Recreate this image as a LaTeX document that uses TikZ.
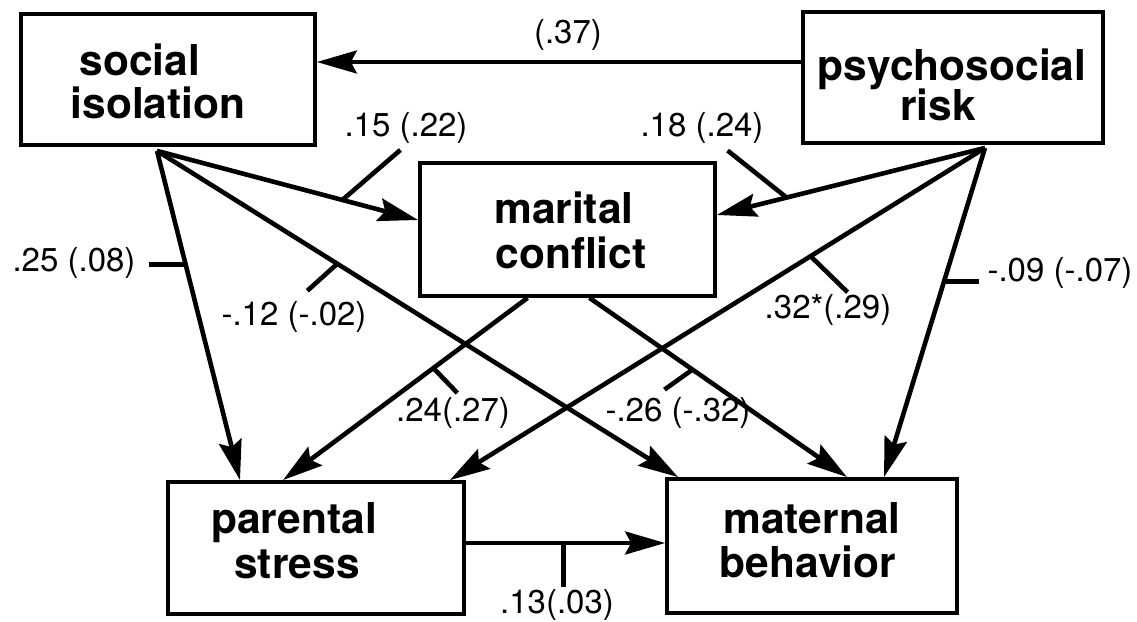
\documentclass[tikz,border=0pt]{standalone}
\usepackage{fontspec}
\setmainfont{TeX Gyre Heros}
\usetikzlibrary{arrows.meta}
\begin{document}
\begin{tikzpicture}[x=1pt,y=-1pt,
  box/.style={draw, line width=3.8pt, inner sep=0pt},
  btxt/.style={font=\bfseries\fontsize{42.5}{44}\selectfont, inner sep=0pt, anchor=base},
  lbl/.style={font=\fontsize{33}{35}\selectfont, inner sep=0pt},
  arr/.style={line width=4.6pt, -{Stealth[length=40pt,width=23pt,inset=6pt]}},
  thinarr/.style={line width=3.8pt, -{Stealth[length=40pt,width=23pt,inset=6pt]}},
  tick/.style={line width=4.6pt}]
\useasboundingbox[fill=white] (0,0) rectangle (1137,621);

% boxes
\node[box, minimum width=294pt, minimum height=131pt] (si) at (168,79.5) {};
\node[box, minimum width=300pt, minimum height=131pt] (pr) at (953,77.5) {};
\node[box, minimum width=295pt, minimum height=133pt] (mc) at (567.5,229.5) {};
\node[box, minimum width=296pt, minimum height=132pt] (ps) at (316,548) {};
\node[box, minimum width=290pt, minimum height=134pt] (mb) at (812,546) {};

% box texts
\node[btxt] (si1) at (140,75) {social};
\node[btxt] (si2) at (158,118) {isolation};
\node[btxt] (pr1) at (952,80) {psychosocial};
\node[btxt] (pr2) at (938,120) {risk};
\node[btxt] (mc1) at (564,223) {marital};
\node[btxt] (mc2) at (571,268) {conflict};
\node[btxt] (ps1) at (294,533) {parental};
\node[btxt] (ps2) at (297,578) {stress};
\node[btxt] (mb1) at (812,533) {maternal};
\node[btxt] (mb2) at (808,577) {behavior};

% connectors
\draw[thinarr] ([yshift=15.5pt]pr.west) -- ([yshift=17.5pt]si.east);
\draw[arr] ([xshift=-11pt,yshift=-4pt]si.south) -- coordinate[pos=0.345] (t25) ([xshift=-76pt]ps.north);
\draw[arr] ([xshift=-11pt,yshift=-4pt]si.south) -- coordinate[pos=0.71] (t15) ([yshift=9.5pt]mc.west);
\draw[arr] ([xshift=-11pt,yshift=-4pt]si.south) -- coordinate[pos=0.346] (t12) ([xshift=13pt]mb.north west);
\draw[arr] ([xshift=32pt,yshift=-3pt]pr.south) -- coordinate[pos=0.74] (t18) ([yshift=14.5pt]mc.east);
\draw[arr] ([xshift=32pt,yshift=-3pt]pr.south) -- coordinate[pos=0.326] (t32) ([xshift=-16pt]ps.north east);
\draw[arr] ([xshift=32pt,yshift=-3pt]pr.south) -- coordinate[pos=0.405] (t09) ([xshift=72pt]mb.north);
\draw[arr] ([xshift=-40pt]mc.south) -- coordinate[pos=0.385] (t24) ([xshift=-33pt]ps.north);
\draw[arr] ([xshift=22pt]mc.south) -- coordinate[pos=0.40] (t26) ([xshift=35pt]mb.north);
\draw[thinarr] ([yshift=5pt]ps.east) -- coordinate[pos=0.49] (t13) ([yshift=3pt]mb.west);

% ticks
\draw[tick] (t25) -- ++(-37,0);
\draw[tick] (t12) -- ++(-30,27);
\draw[tick] (t15) -- ++(58,-50);
\draw[tick] (t18) -- ++(-59,-47);
\draw[tick] (t32) -- ++(37,36);
\draw[tick] (t09) -- ++(35,0);
\draw[tick] (t24) -- ++(24,25);
\draw[tick] (t26) -- ++(-28,20);
\draw[tick] (t13) -- ++(0,44);

% labels
\node[lbl] (l37) at (568,35) {(.37)};
\node[lbl] (l15) at (406,128) {.15 (.22)};
\node[lbl] (l18) at (702,128) {.18 (.24)};
\node[lbl] (l25) at (74,263) {.25 (.08)};
\node[lbl] (l12) at (294,317) {-.12 (-.02)};
\node[lbl] (l32) at (828,310) {.32*(.29)};
\node[lbl] (l09) at (1060,273) {-.09 (-.07)};
\node[lbl] (l24) at (453,413) {.24(.27)};
\node[lbl] (l26) at (678,413) {-.26 (-.32)};
\node[lbl] (l13) at (557,605) {.13(.03)};
\end{tikzpicture}
\end{document}
